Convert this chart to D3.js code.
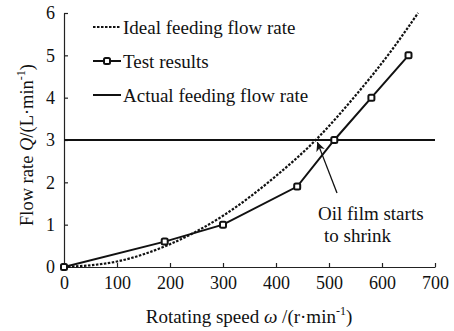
<!DOCTYPE html>
<html>
<head>
<meta charset="utf-8">
<script src="https://cdn.jsdelivr.net/npm/d3@7"></script>
<style>
  body { margin: 0; background: #fff; }
  svg text { font-family: 'Liberation Serif', 'DejaVu Serif', serif; }
</style>
</head>
<body>
<svg id="chart" width="454" height="331"></svg>
<script>
// test results
const testSpeed = [0, 190, 300, 440, 510, 580, 650];
const testFlow = [0, 0.6, 1.0, 1.9, 3.0, 4.0, 5.0];
// ideal curve
const idealSpeed = [0, 100, 200, 300, 400, 475, 550, 620, 668];
const idealFlow = [0, 0.13, 0.54, 1.21, 2.15, 3.0, 4.05, 5.15, 6.0];
// actual feeding flow rate
const actualFlow = 3;
const xTicks = [0, 100, 200, 300, 400, 500, 600, 700];
const yTicks = [0, 1, 2, 3, 4, 5, 6];
const legendLabels = ['Ideal feeding flow rate', 'Test results', 'Actual feeding flow rate'];

const svg = d3.select('#chart');
const x = d3.scaleLinear().domain([0, 700]).range([64, 435]);
const y = d3.scaleLinear().domain([0, 6]).range([267, 13]);

// axes
const xAxis = svg.append('g')
    .attr('transform', 'translate(0,' + y(0) + ')')
    .call(d3.axisBottom(x).tickValues(xTicks).tickFormat(d3.format('d'))
        .tickSizeInner(-4).tickSizeOuter(0).tickPadding(7));
const yAxis = svg.append('g')
    .attr('transform', 'translate(' + x(0) + ',0)')
    .call(d3.axisLeft(y).tickValues(yTicks).tickFormat(d3.format('d'))
        .tickSizeInner(-4).tickSizeOuter(0).tickPadding(9));
[xAxis, yAxis].forEach(function (g) {
    g.attr('font-size', null);
    g.selectAll('text').attr('font-size', 18).attr('fill', '#111');
    g.selectAll('path, line').attr('stroke', '#222').attr('stroke-width', 1.2);
});
xAxis.selectAll('text').attr('dy', '0.85em');

// axis titles
const xt = svg.append('text').attr('x', 249).attr('y', 323).attr('text-anchor', 'middle').attr('font-size', 19);
xt.append('tspan').text('Rotating speed ');
xt.append('tspan').attr('font-style', 'italic').text('ω');
xt.append('tspan').text(' /(r·min');
xt.append('tspan').attr('font-size', 12).attr('dy', -8).text('-1');
xt.append('tspan').attr('dy', 8).text(')');

const yt = svg.append('text').attr('transform', 'translate(33,145) rotate(-90)')
    .attr('text-anchor', 'middle').attr('font-size', 18.5);
yt.append('tspan').text('Flow rate ');
yt.append('tspan').attr('font-style', 'italic').text('Q');
yt.append('tspan').text('/(L·min');
yt.append('tspan').attr('font-size', 12).attr('dy', -8).text('-1');
yt.append('tspan').attr('dy', 8).text(')');

// actual line
svg.append('line')
    .attr('x1', x(0)).attr('x2', x(700))
    .attr('y1', y(actualFlow)).attr('y2', y(actualFlow))
    .attr('stroke', '#111').attr('stroke-width', 2);

// ideal curve
const idealLine = d3.line().x(function (d, i) { return x(idealSpeed[i]); })
    .y(function (d) { return y(d); }).curve(d3.curveMonotoneX);
svg.append('path')
    .attr('d', idealLine(idealFlow))
    .attr('fill', 'none').attr('stroke', '#111').attr('stroke-width', 2.2)
    .attr('stroke-dasharray', '2.5,1.5');

// test results
const testLine = d3.line().x(function (d, i) { return x(testSpeed[i]); })
    .y(function (d) { return y(d); });
svg.append('path')
    .attr('d', testLine(testFlow))
    .attr('fill', 'none').attr('stroke', '#111').attr('stroke-width', 2);
svg.selectAll('rect.marker')
    .data(testFlow).enter().append('rect')
    .attr('class', 'marker')
    .attr('x', function (d, i) { return x(testSpeed[i]) - 3; })
    .attr('y', function (d) { return y(d) - 3; })
    .attr('width', 6).attr('height', 6).attr('rx', 1.5)
    .attr('fill', '#fff').attr('stroke', '#111').attr('stroke-width', 2);

// legend
const legend = svg.append('g');
legendLabels.forEach(function (label, i) {
    const ly = 27 + i * 34;
    const l = legend.append('line')
        .attr('x1', 93).attr('x2', 121).attr('y1', ly).attr('y2', ly)
        .attr('stroke', '#111').attr('stroke-width', 2);
    if (i === 0) l.attr('stroke-dasharray', '2.5,1.5');
    if (i === 1) {
        legend.append('rect').attr('x', 104).attr('y', ly - 3)
            .attr('width', 6).attr('height', 6).attr('rx', 1.5)
            .attr('fill', '#fff').attr('stroke', '#111').attr('stroke-width', 2);
    }
    legend.append('text').attr('x', 123).attr('y', ly + 7)
        .attr('font-size', 19).text(label);
});

// annotation
svg.append('defs').append('marker')
    .attr('id', 'arrowhead').attr('viewBox', '0 0 10 10')
    .attr('refX', 10).attr('refY', 5)
    .attr('markerWidth', 9).attr('markerHeight', 9)
    .attr('markerUnits', 'userSpaceOnUse').attr('orient', 'auto')
    .append('path').attr('d', 'M10 5 0 0 3 5 0 10Z').attr('fill', '#111');
svg.append('line')
    .attr('x1', 337).attr('y1', 193)
    .attr('x2', x(478)).attr('y2', y(2.95))
    .attr('stroke', '#111').attr('stroke-width', 1.3)
    .attr('marker-end', 'url(#arrowhead)');
svg.append('text').attr('x', 318).attr('y', 220).attr('font-size', 19).text('Oil film starts');
svg.append('text').attr('x', 324).attr('y', 242).attr('font-size', 19).text('to shrink');

svg.selectAll('text').attr('fill', '#111');
</script>
</body>
</html>
